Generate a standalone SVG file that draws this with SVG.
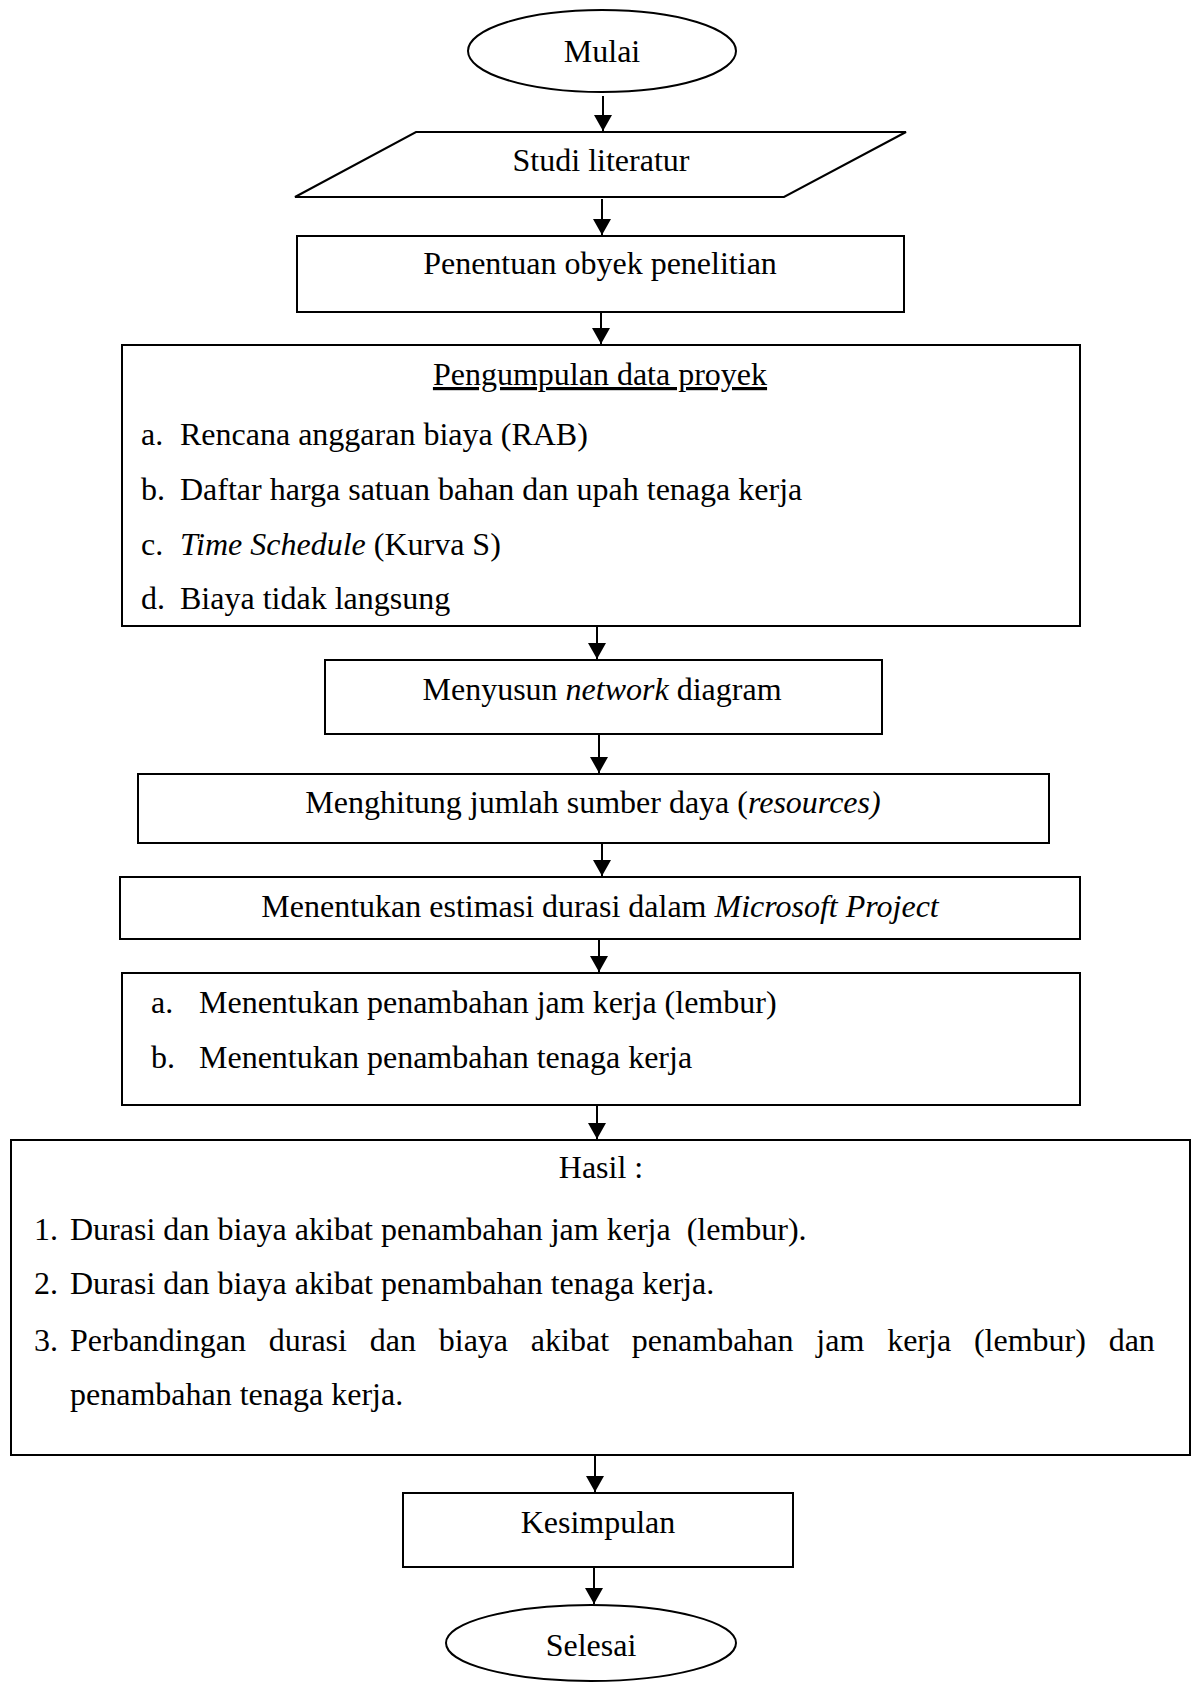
<svg xmlns="http://www.w3.org/2000/svg" width="1192" height="1682" viewBox="0 0 1192 1682">
<style>
.box{fill:#fff;stroke:#000;stroke-width:2}
.t{font-family:"Liberation Serif","Times New Roman",serif;font-size:32px;fill:#000}
.c{text-anchor:middle}
.i{font-style:italic}
.con line{stroke:#000;stroke-width:2}
</style>
<defs>
<marker id="ah" markerWidth="8" markerHeight="9" refX="8" refY="4.5" orient="auto" markerUnits="strokeWidth">
<path d="M0,0 L8,4.5 L0,9 Z" fill="#000"/>
</marker>
</defs>
<rect width="1192" height="1682" fill="#fff"/>
<g id="connectors" class="con">
<line x1="603" y1="96" x2="603" y2="131" marker-end="url(#ah)"/>
<line x1="602" y1="199" x2="602" y2="235" marker-end="url(#ah)"/>
<line x1="601" y1="313" x2="601" y2="344" marker-end="url(#ah)"/>
<line x1="597" y1="627" x2="597" y2="659" marker-end="url(#ah)"/>
<line x1="599" y1="735" x2="599" y2="773" marker-end="url(#ah)"/>
<line x1="602" y1="844" x2="602" y2="876" marker-end="url(#ah)"/>
<line x1="599" y1="940" x2="599" y2="972" marker-end="url(#ah)"/>
<line x1="597" y1="1106" x2="597" y2="1139" marker-end="url(#ah)"/>
<line x1="595" y1="1456" x2="595" y2="1492" marker-end="url(#ah)"/>
<line x1="594" y1="1568" x2="594" y2="1604" marker-end="url(#ah)"/>
</g>
<g id="mulai">
<ellipse class="box" cx="602" cy="51" rx="134" ry="41"/>
<text class="t c" x="602" y="62">Mulai</text>
</g>
<g id="studi">
<polygon class="box" points="416,132 906,132 784,197 295,197"/>
<text class="t c" x="601" y="171">Studi literatur</text>
</g>
<g id="penentuan">
<rect class="box" x="297" y="236" width="607" height="76"/>
<text class="t c" x="600" y="274">Penentuan obyek penelitian</text>
</g>
<g id="pengumpulan">
<rect class="box" x="122" y="345" width="958" height="281"/>
<text class="t c" x="600" y="385" text-decoration="underline">Pengumpulan data proyek</text>
<text class="t" x="141" y="445">a.</text><text class="t" x="180" y="445">Rencana anggaran biaya (RAB)</text>
<text class="t" x="141" y="500">b.</text><text class="t" x="180" y="500">Daftar harga satuan bahan dan upah tenaga kerja</text>
<text class="t" x="141" y="555">c.</text><text class="t" x="180" y="555"><tspan class="i">Time Schedule</tspan> (Kurva S)</text>
<text class="t" x="141" y="609">d.</text><text class="t" x="180" y="609">Biaya tidak langsung</text>
</g>
<g id="menyusun">
<rect class="box" x="325" y="660" width="557" height="74"/>
<text class="t c" x="602" y="700">Menyusun <tspan class="i">network</tspan> diagram</text>
</g>
<g id="menghitung">
<rect class="box" x="138" y="774" width="911" height="69"/>
<text class="t c" x="593" y="813">Menghitung jumlah sumber daya (<tspan class="i">resources)</tspan></text>
</g>
<g id="estimasi">
<rect class="box" x="120" y="877" width="960" height="62"/>
<text class="t c" x="600" y="917">Menentukan estimasi durasi dalam <tspan class="i">Microsoft Project</tspan></text>
</g>
<g id="penambahan">
<rect class="box" x="122" y="973" width="958" height="132"/>
<text class="t" x="151" y="1013">a.</text><text class="t" x="199" y="1013">Menentukan penambahan jam kerja (lembur)</text>
<text class="t" x="151" y="1068">b.</text><text class="t" x="199" y="1068">Menentukan penambahan tenaga kerja</text>
</g>
<g id="hasil">
<rect class="box" x="11" y="1140" width="1179" height="315"/>
<text class="t c" x="601" y="1178">Hasil :</text>
<text class="t" x="34" y="1240">1.</text><text class="t" x="70" y="1240" xml:space="preserve">Durasi dan biaya akibat penambahan jam kerja  (lembur).</text>
<text class="t" x="34" y="1294">2.</text><text class="t" x="70" y="1294">Durasi dan biaya akibat penambahan tenaga kerja.</text>
<text class="t" x="34" y="1351">3.</text><text class="t" x="70" y="1351" word-spacing="14.8">Perbandingan durasi dan biaya akibat penambahan jam kerja (lembur) dan</text>
<text class="t" x="70" y="1405">penambahan tenaga kerja.</text>
</g>
<g id="kesimpulan">
<rect class="box" x="403" y="1493" width="390" height="74"/>
<text class="t c" x="598" y="1533">Kesimpulan</text>
</g>
<g id="selesai">
<ellipse class="box" cx="591" cy="1643" rx="145" ry="38"/>
<text class="t c" x="591" y="1656">Selesai</text>
</g>
</svg>
